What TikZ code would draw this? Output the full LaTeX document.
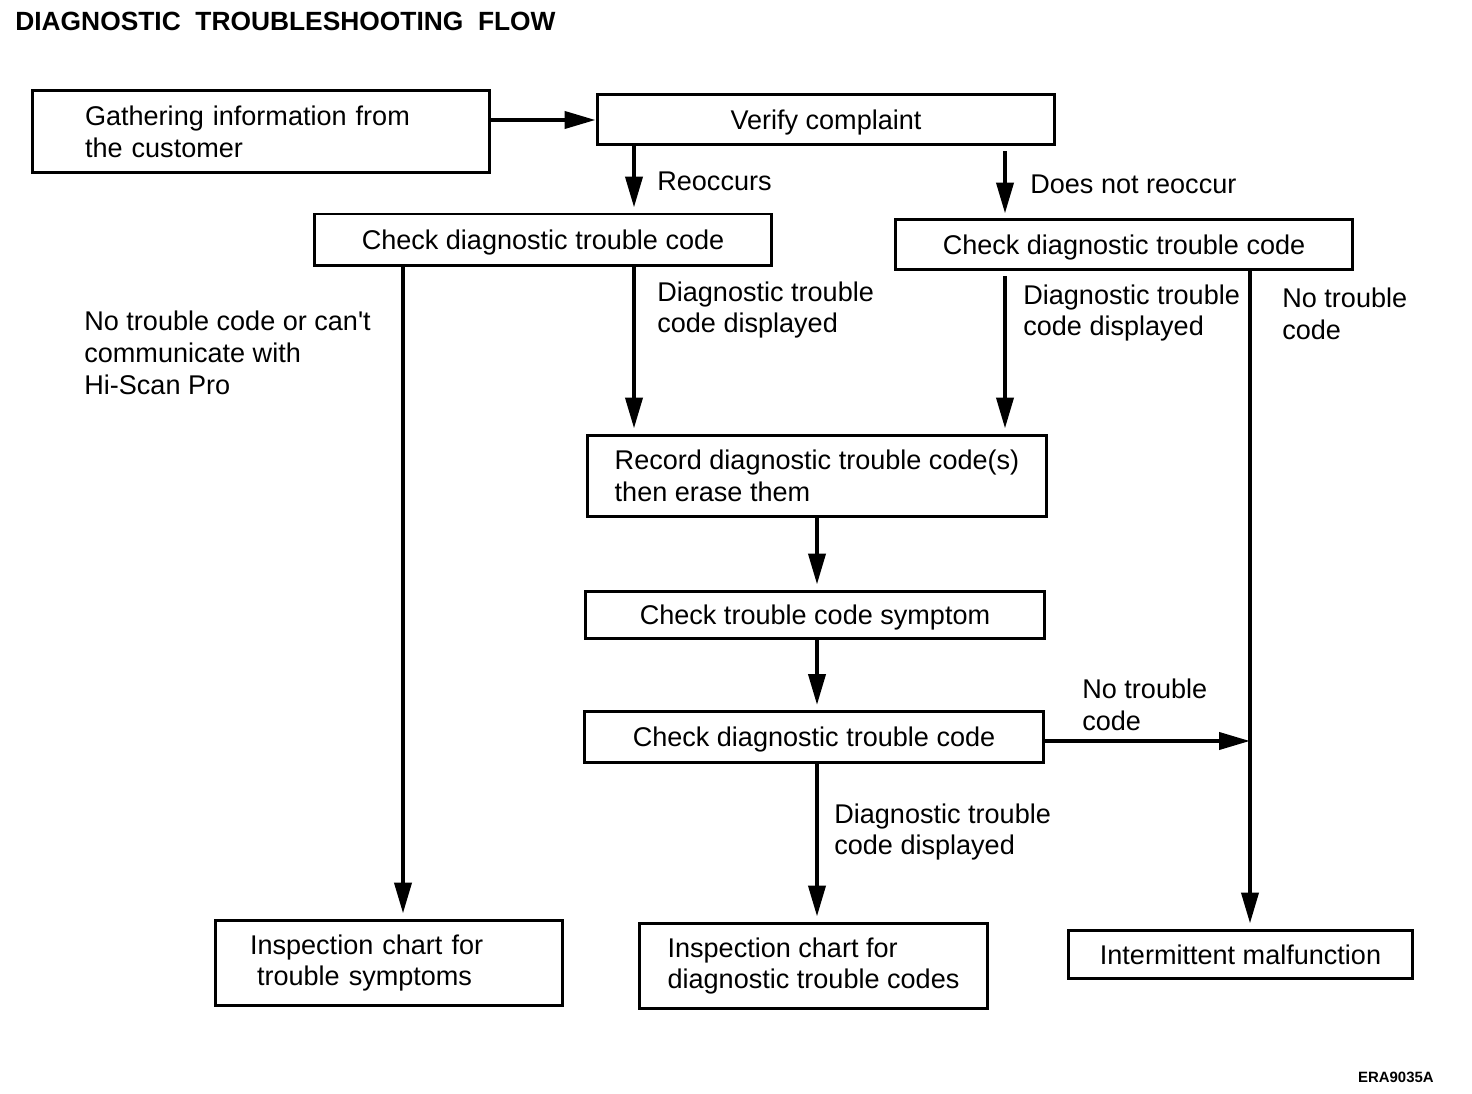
\documentclass[tikz,border=0pt]{standalone}
\usepackage{fontspec}
\setmainfont{Liberation Sans}
\usetikzlibrary{arrows.meta}
\tikzset{
	box/.style={draw, line width=0.06cm, minimum width=9.16cm, minimum height=1cm, inner sep=0pt, align=left},
	onebox/.style={box, text height=0.39cm, text depth=0pt},
	lbl/.style={anchor=west, inner sep=0pt, align=left},
	arr/.style={line width=0.08cm, -{Triangle[length=0.62cm,width=0.34cm]}, shorten >=0.1cm},
}
\begin{document}
\begin{tikzpicture}[x=0.02cm, y=-0.02cm, font=\fontsize{15.4pt}{18.2pt}\selectfont]
			%%%%% START %%%%%
			\useasboundingbox (0,0) rectangle (1472,1094);
			
			\node[anchor=base west, inner sep=0pt, font=\fontsize{15pt}{18pt}\selectfont\bfseries] (title) at (15,31) {DIAGNOSTIC\ \ TROUBLESHOOTING\ \ FLOW};
			
			\node[box, minimum height=1.66cm, inner xsep=1.06cm, text width=7.04cm] (gather) at (261,131.5) {Gathering information from\\the customer};
			\node[onebox] (verify) at (826,120) {Verify complaint};
			\node[onebox, minimum height=1.04cm] (chkL) at (543,240) {Check diagnostic trouble code};
			\node[onebox] (chkR) at (1124,245) {Check diagnostic trouble code};
			
			\node[box, minimum width=9.2cm, minimum height=1.64cm] (record) at (817,476) {Record diagnostic trouble code(s)\\then erase them};
			\node[onebox, minimum width=9.2cm, minimum height=0.96cm] (symptom) at (815,615) {Check trouble code symptom};
			\node[onebox, minimum width=9.2cm, minimum height=1.02cm] (chkM) at (814,737) {Check diagnostic trouble code};
			
			\node[box, minimum width=6.96cm, minimum height=1.72cm, inner xsep=0.7cm, text width=5.56cm] (inspS) at (389,963) {Inspection chart for\\\hspace{0.14cm}trouble symptoms};
			\node[box, minimum width=6.98cm, minimum height=1.72cm] (inspD) at (813.5,966) {Inspection chart for\\diagnostic trouble codes};
			\node[onebox, minimum width=6.9cm, minimum height=0.98cm] (interm) at (1240.5,954.5) {Intermittent malfunction};
			
			% columns of the arrows
			\coordinate (xReo) at (634,0);
			\coordinate (xNot) at (1005,0);
			\coordinate (xSym) at (403,0);
			\coordinate (xMid) at (817,0);
			\coordinate (xNo) at (1250,0);
			\coordinate (tap) at ([yshift=-0.08cm]chkM.east -| xNo);
			
			\draw[arr, shorten >=0pt] (gather.east |- verify) -- (verify.west);
			\draw[arr] (verify.south -| xReo) -- (chkL.north -| xReo);
			\draw[arr] ([yshift=-0.1cm]verify.south -| xNot) -- (chkR.north -| xNot);
			\draw[arr] (chkL.south -| xReo) -- (record.north -| xReo);
			\draw[arr] ([yshift=-0.1cm]chkR.south -| xNot) -- (record.north -| xNot);
			\draw[arr] (chkL.south -| xSym) -- (inspS.north -| xSym);
			\draw[arr] (chkR.south -| xNo) -- (interm.north -| xNo);
			\draw[arr] (record.south -| xMid) -- (symptom.north -| xMid);
			\draw[arr] (symptom.south -| xMid) -- (chkM.north -| xMid);
			\draw[arr] (chkM.south -| xMid) -- (inspD.north -| xMid);
			\draw[arr, shorten >=0pt] (chkM.east |- tap) -- (tap);
			
			\node[lbl] (reo) at (657,181) {Reoccurs};
			\node[lbl] (notreo) at (1030,184) {Does not reoccur};
			\node[lbl] (dispL) at (657,310) {Diagnostic trouble\\code displayed};
			\node[lbl] (dispR) at (1023,313) {Diagnostic trouble\\code displayed};
			\node[lbl] (nocodeR) at (1282,314) {No trouble\\code};
			\node[lbl] (nocomm) at (84,353) {No trouble code or can\textquotesingle t\\communicate with\\Hi-Scan Pro};
			\node[lbl] (dispM) at (834,832) {Diagnostic trouble\\code displayed};
			\node[lbl] (nocodeM) at (1082,705) {No trouble\\code};
			
			\node[anchor=base east, inner sep=0pt, font=\fontsize{8.5pt}{10pt}\selectfont\bfseries] (fig) at (1434,1082) {ERA9035A};
			%%%%% END %%%%%
\end{tikzpicture}
\end{document}
